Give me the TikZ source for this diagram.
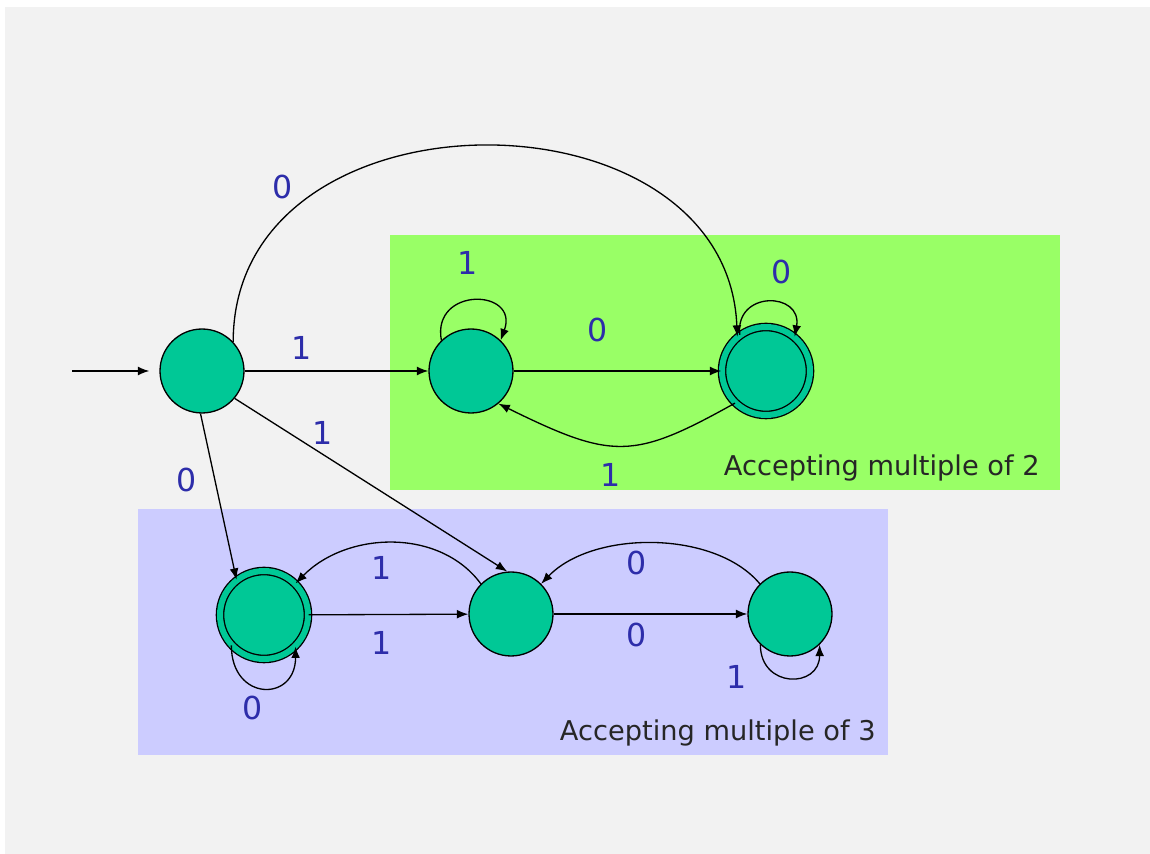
\documentclass[tikz,border=0pt]{standalone}
\usepackage{fontspec}
\setmainfont{DejaVu Sans}
\usetikzlibrary{arrows.meta}
\definecolor{bggray}{HTML}{F2F2F2}
\definecolor{boxgreen}{HTML}{99FF66}
\definecolor{boxblue}{HTML}{CCCCFF}
\definecolor{statefill}{HTML}{00C896}
\definecolor{lblblue}{RGB}{45,45,170}
\begin{document}
\begin{tikzpicture}[x=0.02cm,y=-0.02cm,
  stateN/.style={circle,draw=black,line width=0.75pt,fill=statefill,minimum size=1.68cm,inner sep=0pt},
  acceptN/.style={stateN,minimum size=1.76cm,double=statefill,double distance=0.12cm},
  edge/.style={line width=0.75pt,-{Latex[length=6.5pt,width=5pt]}},
  lbl/.style={text=lblblue,font=\fontsize{18}{18}\selectfont,inner sep=0pt},
  caption/.style={font=\fontsize{15.5}{16}\selectfont,text=black!85,inner sep=0pt}]
\useasboundingbox (0,0) rectangle (1150,854);
\fill[white] (0,0) rectangle (1150,854);
\fill[bggray] (5,7) rectangle (1150,854);
\fill[boxgreen] (390,235) rectangle (1060,490);
\fill[boxblue] (138,509) rectangle (888,755);

% states
\node[stateN] (S) at (202,371) {};
\node[stateN] (A) at (471,371) {};
\node[acceptN] (B) at (766,371) {};
\node[acceptN] (C) at (264,615) {};
\node[stateN] (D) at (511,614) {};
\node[stateN] (E) at (790,614) {};
\coordinate (init) at (72,371);

% edges
\draw[edge,shorten >=0.2cm] (init) -- (S);
\draw[edge] (S.43) .. controls (233,82) and (727,82) .. (B.130);
\draw[edge] (S) -- (A);
\draw[edge] (S.-40) -- (D.95);
\draw[edge] (S.268) -- (C.128);
\draw[edge] (A.134) .. controls +(-10,-54) and +(19,-52) .. (A.46);
\draw[edge] (A) -- (B);
\draw[edge] (B.226) .. controls (633,460) and (613,460) .. (A.-50);
\draw[edge] (B.126) .. controls +(-5,-45) and +(8,-45) .. (B.50);
\draw[edge] (C) -- (D);
\draw[edge] (D.135) .. controls (440,528) and (347,531) .. (C.45);
\draw[edge] (C.223) .. controls +(0,56) and +(0,56) .. (C.-45);
\draw[edge] (D) -- (E);
\draw[edge] (E.135) .. controls (715,530) and (593,530) .. (D.45);
\draw[edge] (E.226) .. controls +(0,44) and +(0,44) .. (E.-46);

% labels
\node[lbl] (l1) at (283,187) {0};
\node[lbl] (l2) at (302,348) {1};
\node[lbl] (l3) at (468,263) {1};
\node[lbl] (l4) at (598,330) {0};
\node[lbl] (l5) at (782,272) {0};
\node[lbl] (l6) at (611,475) {1};
\node[lbl] (l7) at (323,433) {1};
\node[lbl] (l8) at (187,480) {0};
\node[lbl] (l9) at (382,568) {1};
\node[lbl] (l10) at (382,643) {1};
\node[lbl] (l11) at (253,708) {0};
\node[lbl] (l12) at (637,563) {0};
\node[lbl] (l13) at (637,635) {0};
\node[lbl] (l14) at (737,677) {1};

% captions
\node[caption,anchor=east] (cap2) at (1040,468) {Accepting multiple of 2};
\node[caption,anchor=east] (cap3) at (876,733) {Accepting multiple of 3};
\end{tikzpicture}
\end{document}
